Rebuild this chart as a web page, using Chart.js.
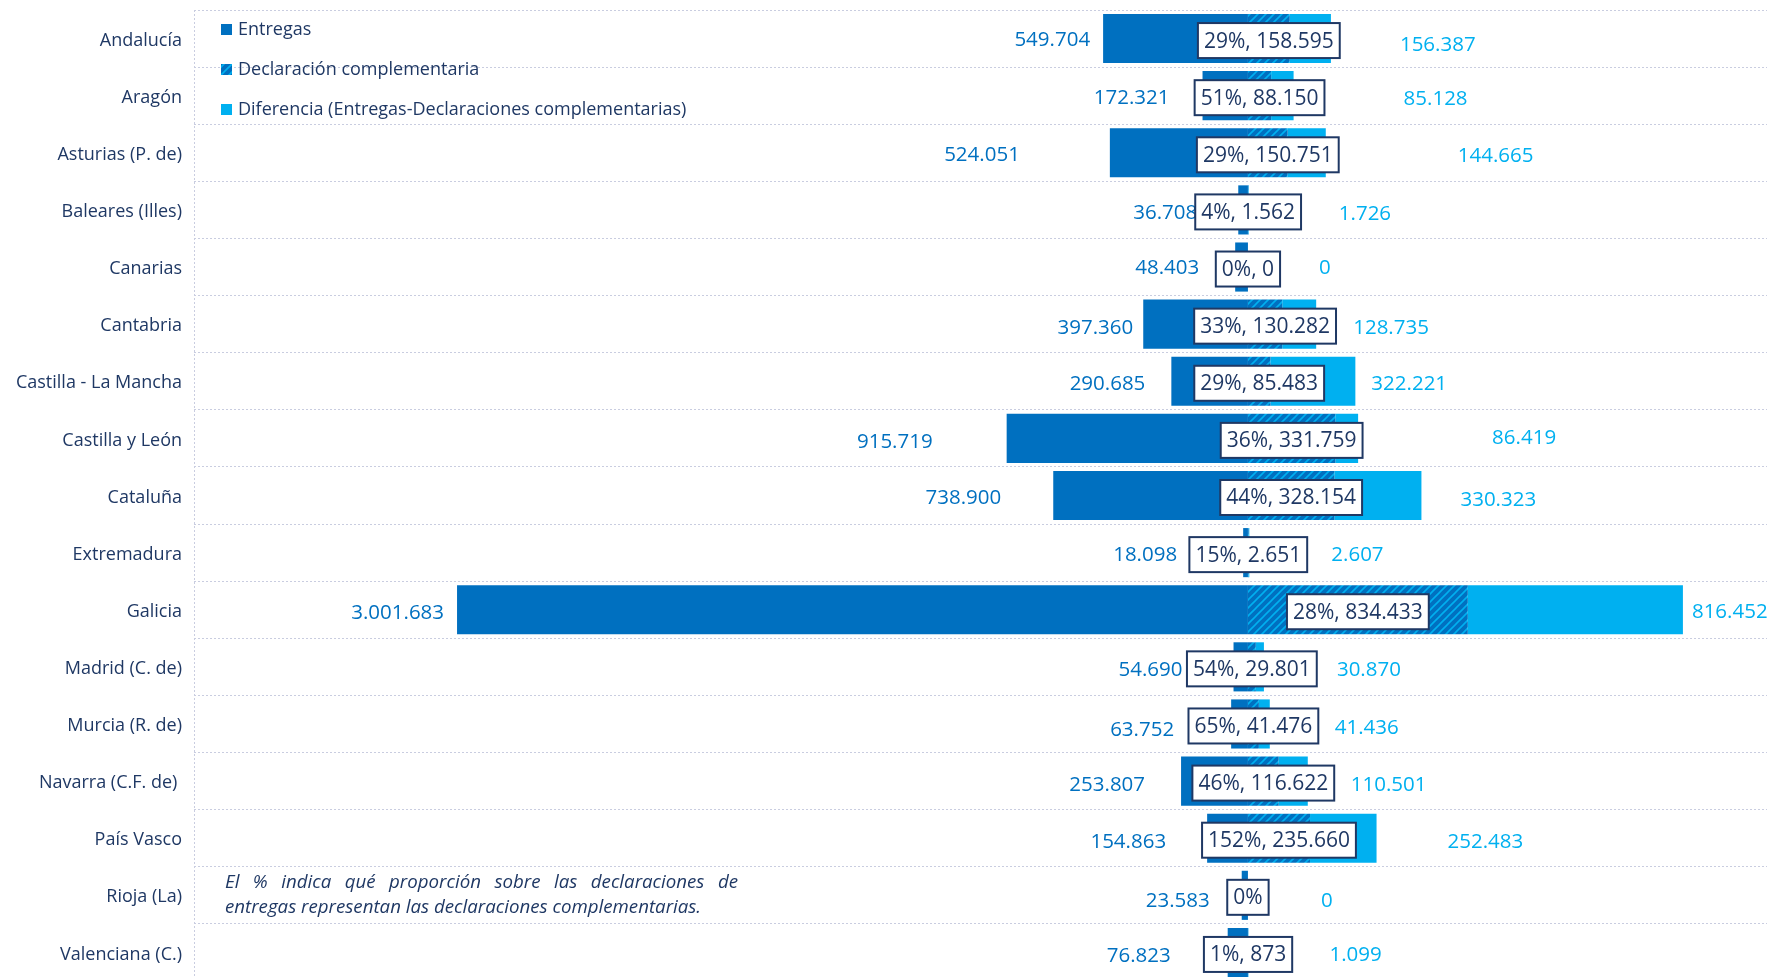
<!DOCTYPE html>
<html>
<head>
<meta charset="utf-8">
<script src="https://cdn.jsdelivr.net/npm/chart.js@4.4.1/dist/chart.umd.min.js"></script>
<style>
    html, body { margin: 0; padding: 0; background: #fff; overflow: hidden; }
    #wrap { width: 1767px; height: 977px; overflow: hidden; }
</style>
</head>
<body>
<div id="wrap"><canvas id="chart" width="1767" height="981"></canvas></div>
<script>
const regiones = ['Andalucía', 'Aragón', 'Asturias (P. de)', 'Baleares (Illes)', 'Canarias', 'Cantabria',
    'Castilla - La Mancha', 'Castilla y León', 'Cataluña', 'Extremadura', 'Galicia', 'Madrid (C. de)',
    'Murcia (R. de)', 'Navarra (C.F. de) ', 'País Vasco', 'Rioja (La)', 'Valenciana (C.)'];
const entregas = [549704, 172321, 524051, 36708, 48403, 397360, 290685, 915719, 738900, 18098,
    3001683, 54690, 63752, 253807, 154863, 23583, 76823];
const complementarias = [158595, 88150, 150751, 1562, 0, 130282, 85483, 331759, 328154, 2651,
    834433, 29801, 41476, 116622, 235660, null, 873];
const diferencias = [156387, 85128, 144665, 1726, 0, 128735, 322221, 86419, 330323, 2607,
    816452, 30870, 41436, 110501, 252483, 0, 1099];

// the value labels were dragged by hand in the original, these are the px nudges
const gapEnt = [13, 33, 90, 41, 36, 10, 26, 74, 52, 66, 13, 51, 57, 36, 41, 32, 57];
const dyEnt = [2, 2, 2, 3, 1, 4, 3, 4, 3, 3, 3, 3, 6, 4, 4, 6, 4];
const gapDif = [69, 110, 132, 90, 71, 37, 16, 134, 39, 82, 9, 73, 65, 43, 71, 73, 81];
const dyDif = [7, 3, 3, 4, 1, 4, 3, 0, 5, 3, 2, 3, 4, 4, 4, 6, 3];

const AZUL = '#0070C0';
const CELESTE = '#00B0F0';
const NAVY = '#1F3864';
const GRID = '#c9cde0';

const nota1 = 'El % indica qué proporción sobre las declaraciones de';
const nota2 = 'entregas representan las declaraciones complementarias.';

function fmt(v) {
    return String(Math.round(v)).replace(/\B(?=(\d{3})+(?!\d))/g, '.');
}

const canvas = document.getElementById('chart');
const ctx = canvas.getContext('2d');

// hatched fill for the complementary declarations
const pc = document.createElement('canvas');
pc.width = 8; pc.height = 8;
const p = pc.getContext('2d');
p.fillStyle = AZUL;
p.fillRect(0, 0, 8, 8);
p.strokeStyle = CELESTE;
p.lineWidth = 1.6;
p.beginPath();
p.moveTo(0, 8); p.lineTo(8, 0);
p.moveTo(-2, 2); p.lineTo(2, -2);
p.moveTo(6, 10); p.lineTo(10, 6);
p.stroke();
const rayado = ctx.createPattern(pc, 'repeat');

Chart.defaults.font.family = "'Open Sans', sans-serif";

const etiquetas = {
    id: 'etiquetas',
    afterDatasetsDraw(chart) {
        const c = chart.ctx;
        const xs = chart.scales.x;
        const ys = chart.scales.y;
        c.save();
        c.textBaseline = 'middle';

        // Entregas values, left of the bars
        c.font = "20.5px 'Open Sans'";
        c.fillStyle = AZUL;
        c.textAlign = 'right';
        entregas.forEach((v, i) => {
            c.fillText(fmt(v), xs.getPixelForValue(-v) - gapEnt[i], ys.getPixelForValue(i) + dyEnt[i]);
        });

        // Diferencia values, right of the bars
        c.fillStyle = CELESTE;
        c.textAlign = 'left';
        diferencias.forEach((v, i) => {
            const end = xs.getPixelForValue((complementarias[i] || 0) + v);
            c.fillText(fmt(v), end + gapDif[i], ys.getPixelForValue(i) + dyDif[i]);
        });

        // boxed "%, complementaria" labels, centred on the hatched piece
        c.font = "21px 'Open Sans'";
        c.textAlign = 'center';
        complementarias.forEach((v, i) => {
            const cx = xs.getPixelForValue((v || 0) / 2);
            const pct = Math.round((v || 0) / entregas[i] * 100) + '%';
            const txt = v === null ? pct : pct + ', ' + fmt(v);
            const w = c.measureText(txt).width + 12;
            const h = 35;
            const cy = ys.getPixelForValue(i) + 2;
            c.fillStyle = '#fff';
            c.fillRect(cx - w / 2, cy - h / 2, w, h);
            c.strokeStyle = NAVY;
            c.lineWidth = 2;
            c.strokeRect(cx - w / 2, cy - h / 2, w, h);
            c.fillStyle = NAVY;
            c.fillText(txt, cx, cy + 1);
        });

        // legend, laid over the plot like the original
        const items = [
            ['Entregas', AZUL],
            ['Declaración complementaria', rayado],
            ['Diferencia (Entregas-Declaraciones complementarias)', CELESTE]
        ];
        c.font = "18px 'Open Sans'";
        c.textAlign = 'left';
        items.forEach((it, k) => {
            const y = 30 + k * 40;
            c.fillStyle = it[1];
            c.fillRect(221, y - 6, 11, 11);
            c.fillStyle = NAVY;
            c.fillText(it[0], 238, y);
        });

        // note
        c.font = "italic 18.7px 'Open Sans'";
        const words = nota1.split(' ');
        const ww = words.map(w => c.measureText(w).width);
        const gap = (513 - ww.reduce((a, b) => a + b, 0)) / (words.length - 1);
        let px = 225;
        words.forEach((w, k) => {
            c.fillText(w, px, 883);
            px += ww[k] + gap;
        });
        c.fillText(nota2, 225, 908);
        c.restore();
    }
};

new Chart(ctx, {
    type: 'bar',
    data: {
        labels: regiones,
        datasets: [
            {
                label: 'Entregas',
                data: entregas.map(v => -v),
                backgroundColor: AZUL
            },
            {
                label: 'Declaración complementaria',
                data: complementarias,
                backgroundColor: rayado
            },
            {
                label: 'Diferencia (Entregas-Declaraciones complementarias)',
                data: diferencias,
                backgroundColor: CELESTE
            }
        ]
    },
    options: {
        indexAxis: 'y',
        responsive: false,
        animation: false,
        devicePixelRatio: 1,
        datasets: {
            bar: { barPercentage: 0.86, categoryPercentage: 1, borderWidth: 0 }
        },
        layout: { padding: { top: 10, right: 0, bottom: 0, left: 0 } },
        plugins: {
            legend: { display: false },
            tooltip: { enabled: false }
        },
        scales: {
            x: {
                stacked: true,
                min: -4000000,
                max: 1970000,
                ticks: { display: false, stepSize: 1000000 },
                grid: { color: GRID, drawTicks: false },
                border: { display: false, dash: [2, 2] },
                afterBuildTicks(s) {
                    s.ticks = s.ticks.filter(t => t.value % 1000000 === 0);
                }
            },
            y: {
                stacked: true,
                ticks: { color: NAVY, font: { size: 18 }, padding: 12, labelOffset: 2 },
                grid: { color: GRID, drawTicks: false, offset: true },
                border: { display: false, dash: [2, 2] },
                afterFit(s) {
                    s.width = 194;
                    s.paddingTop = 0;
                    s.paddingBottom = 0;
                }
            }
        }
    },
    plugins: [etiquetas]
});
</script>
</body>
</html>
